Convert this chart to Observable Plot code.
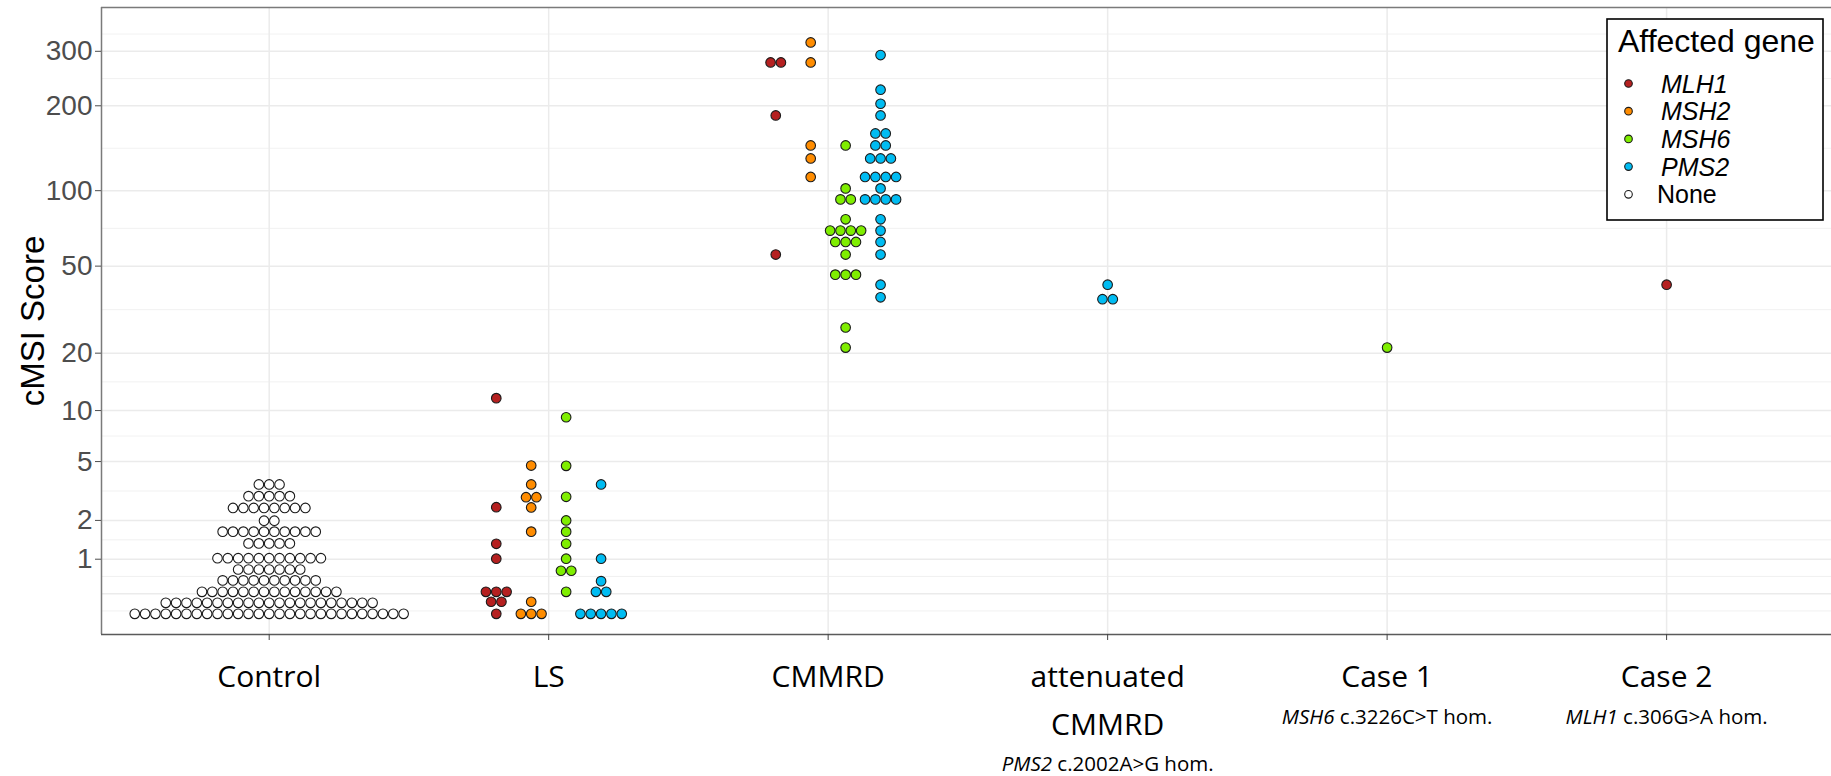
<!DOCTYPE html>
<html>
<head>
<meta charset="utf-8">
<script src="https://cdn.jsdelivr.net/npm/d3@7"></script>
<script src="https://cdn.jsdelivr.net/npm/@observablehq/plot@0.6"></script>
<style>
  html, body { margin: 0; padding: 0; background: #fff; }
  #chart { width: 1831px; height: 776px; overflow: hidden; }
</style>
</head>
<body>
<div id="chart"></div>
<script>
// ---------- data ----------
const categories = ["Control", "LS", "CMMRD", "attenuated\nCMMRD", "Case 1", "Case 2"];
const categoryNotes = ["", "", "", "PMS2 c.2002A>G hom.", "MSH6 c.3226C>T hom.", "MLH1 c.306G>A hom."];
const genes = ["MLH1", "MSH2", "MSH6", "PMS2", "None"];
const geneColors = ["#B52020", "#FF8C00", "#7FEE00", "#00BCF2", "#FFFFFF"];
const yTicks = [1, 2, 5, 10, 20, 50, 100, 200, 300];
const yGridMajor = [0.5, 1, 2, 5, 10, 20, 50, 100, 200, 300];

// Control group: dot-plot rows (score of the row, number of dots in the row)
const controlScores = [3.56, 2.97, 2.46, 1.99, 1.65, 1.34, 1.02, 0.82, 0.66, 0.52, 0.41, 0.32];
const controlCounts = [3, 5, 8, 2, 10, 5, 11, 7, 10, 14, 21, 27];

const lsMLH1 = [11.7, 2.49, 1.33, 1.01, 0.52, 0.52, 0.52, 0.42, 0.42, 0.32];
const lsMSH2 = [4.72, 3.56, 2.92, 2.92, 2.48, 1.65, 0.42, 0.32, 0.32, 0.32];
const lsMSH6 = [9.17, 4.70, 2.94, 2.00, 1.65, 1.33, 1.01, 0.80, 0.80, 0.52];
const lsPMS2 = [3.56, 1.01, 0.65, 0.52, 0.52, 0.32, 0.32, 0.32, 0.32, 0.32];

const cmmrdMLH1 = [276.8, 276.8, 185.6, 55.9];
const cmmrdMSH2 = [319.6, 276.8, 146.2, 131.4, 112.5];
const cmmrdMSH6 = [146.2, 102.0, 92.7, 92.7, 77.6, 70.0, 70.0, 70.0, 70.0, 63.0, 63.0, 63.0,
                   55.9, 46.0, 46.0, 46.0, 26.6, 21.3];
const cmmrdPMS2 = [292, 226.1, 203.2, 185.6, 161.0, 161.0, 146.2, 146.2, 131.4, 131.4, 131.4,
                   112.5, 112.5, 112.5, 112.5, 102.0, 92.7, 92.7, 92.7, 92.7, 77.6, 70.0, 63.0,
                   55.9, 41.6, 36.6];

const attenuatedPMS2 = [41.6, 35.9, 35.9];
const case1MSH6 = [21.3];
const case2MLH1 = [41.6];

// ---------- build points ----------
const controlValues = controlScores.flatMap((v, i) => Array(controlCounts[i]).fill(v));
const series = [
  {group: 0, gene: "None", values: controlValues},
  {group: 1, gene: "MLH1", values: lsMLH1},
  {group: 1, gene: "MSH2", values: lsMSH2},
  {group: 1, gene: "MSH6", values: lsMSH6},
  {group: 1, gene: "PMS2", values: lsPMS2},
  {group: 2, gene: "MLH1", values: cmmrdMLH1},
  {group: 2, gene: "MSH2", values: cmmrdMSH2},
  {group: 2, gene: "MSH6", values: cmmrdMSH6},
  {group: 2, gene: "PMS2", values: cmmrdPMS2},
  {group: 3, gene: "PMS2", values: attenuatedPMS2},
  {group: 4, gene: "MSH6", values: case1MSH6},
  {group: 5, gene: "MLH1", values: case2MLH1}
];

const STACK = 0.037;  // horizontal stacking step (category units)
const DODGE = 0.5;    // total dodge width
const points = [];
categories.forEach((c, g) => {
  const sers = series.filter(s => s.group === g);
  const n = sers.length;
  sers.forEach((s, idx) => {
    const off = (idx - (n - 1) / 2) * DODGE / n;
    const rows = d3.group(s.values, v => v);
    for (const [v, arr] of rows) {
      arr.forEach((_, k) => points.push({
        pos: g + off + (k - (arr.length - 1) / 2) * STACK,
        score: v,
        gene: s.gene
      }));
    }
  });
});

// category label lines
const labelLines = categories.flatMap((c, i) => c.split("\n").map((t, j) => ({i, j, t})));

// ---------- scale helpers (minor grid = midpoints in transformed space) ----------
const EXP = 0.17;
const T = v => Math.pow(v, EXP), Ti = t => Math.pow(t, 1 / EXP);
const tm = yGridMajor.map(T);
const d0 = tm[1] - tm[0];
const yGridMinor = [Ti(tm[0] - d0 / 2), ...tm.slice(1).map((t, i) => Ti((t + tm[i]) / 2)), Ti(tm[tm.length - 1] + d0 / 2)];

const Y_DOMAIN = [0.195, 407.7];
const X_DOMAIN = [-0.6, 5.59];
const catFont = "'Open Sans', Lato, sans-serif";
const sansFont = "'Liberation Sans', Arial, sans-serif";

const plot = Plot.plot({
  width: 1831,
  height: 776,
  marginLeft: 101,
  marginRight: 0,
  marginTop: 7,
  marginBottom: 142,
  style: {background: "white", fontFamily: sansFont},
  x: {type: "linear", domain: X_DOMAIN, axis: null},
  y: {type: "pow", exponent: EXP, domain: Y_DOMAIN, axis: null},
  color: {type: "ordinal", domain: genes, range: geneColors},
  marks: [
    Plot.gridY(yGridMinor, {stroke: "#EDEDED", strokeOpacity: 1, strokeWidth: 0.8}),
    Plot.gridY(yGridMajor, {stroke: "#EBEBEB", strokeOpacity: 1, strokeWidth: 1.5}),
    Plot.gridX(d3.range(categories.length), {stroke: "#EBEBEB", strokeOpacity: 1, strokeWidth: 1.5}),
    Plot.ruleY([Y_DOMAIN[1]], {stroke: "#7a7a7a", strokeWidth: 1.3}),
    Plot.ruleX([X_DOMAIN[0]], {stroke: "#7a7a7a", strokeWidth: 1.5}),
    Plot.ruleY([Y_DOMAIN[0]], {stroke: "#5a5a5a", strokeWidth: 1.6}),
    Plot.axisY({ticks: yTicks, tickSize: 6, tickPadding: 3, fontSize: 28, color: "#4D4D4D", label: null}),
    Plot.axisX({ticks: d3.range(categories.length), tickFormat: () => "", tickSize: 6, color: "#444", label: null}),
    Plot.dot(points, {x: "pos", y: "score", fill: "gene", stroke: "#1a1a1a", strokeWidth: 1.1, r: 4.8}),
    Plot.text(labelLines, {filter: d => d.j === 0, x: "i", text: "t", frameAnchor: "bottom",
      lineAnchor: "middle", dy: 43, fontSize: 30, fill: "#000", fontFamily: catFont}),
    Plot.text(labelLines, {filter: d => d.j === 1, x: "i", text: "t", frameAnchor: "bottom",
      lineAnchor: "middle", dy: 91, fontSize: 30, fill: "#000", fontFamily: catFont}),
    Plot.text(categoryNotes, {x: (d, i) => i, text: d => d, frameAnchor: "bottom", lineAnchor: "middle",
      fontSize: 20.5, fill: "#000", fontFamily: catFont, filter: (d, i) => i === 4 || i === 5, dy: 83}),
    Plot.text(categoryNotes, {x: (d, i) => i, text: d => d, frameAnchor: "bottom", lineAnchor: "middle",
      fontSize: 20.5, fill: "#000", fontFamily: catFont, filter: (d, i) => i === 3, dy: 130}),
    Plot.text(["cMSI Score"], {frameAnchor: "left", rotate: -90, dx: -68, fontSize: 33, fill: "#000",
      textAnchor: "middle", lineAnchor: "middle", fontFamily: sansFont})
  ]
});

document.getElementById("chart").appendChild(plot);

// italicise gene names in the category notes
d3.select(plot).selectAll("text").each(function() {
  const t = this.textContent;
  const m = /^(MLH1|MSH2|MSH6|PMS2) (.*)$/.exec(t);
  if (m && this.childElementCount === 0) {
    this.textContent = "";
    d3.select(this).append("tspan").attr("font-style", "italic").text(m[1]);
    d3.select(this).append("tspan").text(" " + m[2]);
  }
});

// legend box (inside panel, top right)
const lg = d3.select(plot).append("g").attr("transform", "translate(1607,19)")
  .attr("font-family", sansFont).attr("text-anchor", "start");
lg.append("rect").attr("width", 216).attr("height", 201).attr("fill", "#fff")
  .attr("stroke", "#000").attr("stroke-width", 1.6);
lg.append("text").attr("x", 11).attr("y", 33).attr("font-size", 32).attr("fill", "#000").text("Affected gene");
genes.forEach((g, i) => {
  const cy = 64.5 + i * 27.7;
  lg.append("circle").attr("cx", 21.5).attr("cy", cy).attr("r", 3.8)
    .attr("fill", geneColors[i]).attr("stroke", "#1a1a1a").attr("stroke-width", 1.1);
  lg.append("text").attr("x", g === "None" ? 50 : 54).attr("y", cy).attr("dy", "0.36em")
    .attr("font-size", 25).attr("fill", "#000")
    .attr("font-style", g === "None" ? "normal" : "italic").text(g);
});
</script>
</body>
</html>
